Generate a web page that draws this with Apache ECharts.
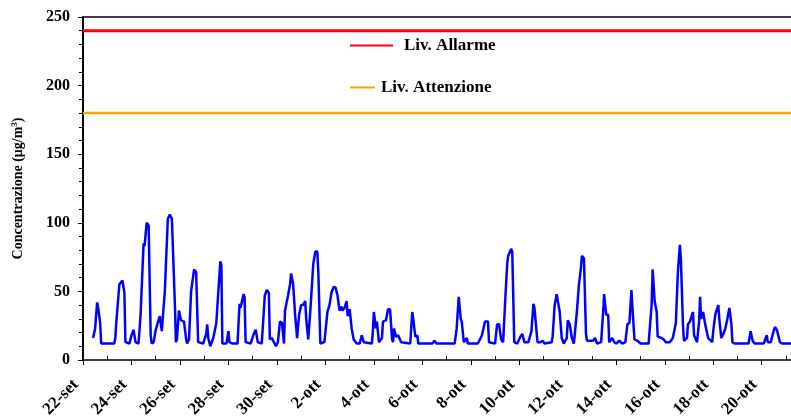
<!DOCTYPE html>
<html>
<head>
<meta charset="utf-8">
<script src="https://cdn.jsdelivr.net/npm/echarts@6/dist/echarts.min.js"></script>
<style>html,body{margin:0;padding:0;background:#fff}#c{width:791px;height:420px}</style>
</head>
<body>
<div id="c"></div>
<script>
// hours since 22-set 00:00
const hours = [10,12,14,15,17,18,31,32,33,36,39,41,42,46,48,50,52,55,57,60,61,63,65,67,68,70,72,73,76,78,81,82,84,86,88,91,92,93,95,97,100,102,103,105,107,110,112,114,119,122,123,124,126,129,132,134,136,137,138,142,144,145,146,148,153,155,156,159,160,161,166,169,171,173,177,180,182,184,185,187,189,191,193,195,197,199,200,203,205,206,208,210,212,214,216,218,220,221,223,225,228,230,232,
233,235,239,242,244,246,247,248,250,252,254,256,257,259,261,262,264,266,268,271,274,276,278,286,287,288,290,291,293,296,297,300,302,304,306,307,308,310,312,315,324,326,327,329,331,332,346,348,350,368,370,372,374,375,377,380,381,391,395,398,401,402,408,410,412,414,416,418,420,421,424,425,427,430,433,435,437,441,444,446,447,450,453,455,457,
464,465,467,469,472,474,476,479,480,482,484,486,489,491,493,494,496,498,499,505,507,509,513,515,516,518,520,521,524,526,528,531,534,537,539,541,543,544,546,549,552,560,563,564,566,568,569,573,575,577,581,584,587,589,591,592,594,595,598,599,601,603,604,605,608,610,611,612,614,616,619,623,624,626,629,630,632,634,636,638,640,642,643,645,659,661,663,665,674,677,678,681,683,685,687,690,692,701];
const values = [16,23,42,38,27,12,12,16,28,55,58,49,13,12,18,22,13,12,33,85,83,100,98,18,12,13,22,22,32,21,50,50,103,106,103,40,13,15,36,29,28,16,12,15,50,66,64,13,12,19,26,16,10,16,27,50,72,69,12,12,21,13,14,12,12,41,38,48,46,13,12,19,22,13,12,47,51,49,15,16,13,10,13,28,27,12,36,47,55,63,56,33,16,33,40,40,43,30,15,35,70,79,79,
64,12,13,35,40,49,48,53,53,47,36,39,36,38,43,32,37,23,15,12,12,18,13,12,21,35,23,28,13,16,28,29,37,37,15,13,23,17,18,13,12,35,30,17,18,12,12,14,12,12,23,46,30,28,13,16,12,12,18,28,28,13,12,26,26,15,13,43,70,76,81,79,13,12,17,19,13,13,21,41,38,13,13,14,12,
13,17,40,48,35,16,12,16,29,26,16,12,35,55,67,76,74,19,14,14,16,12,13,35,48,33,33,13,16,13,12,14,12,13,26,27,51,38,15,14,12,12,40,66,43,35,17,16,15,13,13,16,27,64,84,73,26,14,16,26,28,33,35,18,13,28,46,30,35,26,16,13,21,33,40,30,16,19,23,30,38,26,13,12,12,21,14,12,12,18,13,13,19,24,22,13,12,12];
const tickLabels = ['22-set','24-set','26-set','28-set','30-set','2-ott','4-ott','6-ott','8-ott','10-ott','12-ott','14-ott','16-ott','18-ott','20-ott'];
const yTicks = [0,50,100,150,200,250];
const allarme = 240;
const attenzione = 180;
const xEnd = 701;

const series1 = hours.map((h,i)=>[h, values[i]]);
const oddDays = []; for (let d = 1; d * 24 <= xEnd; d += 2) oddDays.push(d*24);
const yMinor = []; for (let v = 10; v < 250; v += 10) if (v % 50) yMinor.push(v);

const font = 'Liberation Serif, Times New Roman, serif';
const chart = echarts.init(document.getElementById('c'), null, {renderer:'canvas'});
chart.setOption({
  animation:false,
  backgroundColor:'#fff',
  grid:{left:83,right:0,top:17,bottom:60,containLabel:false,outerBoundsMode:'none'},
  legend:[
    {data:['Liv. Allarme'],left:345,top:32,icon:'rect',itemWidth:43,itemHeight:2,
     textStyle:{fontFamily:font,fontWeight:'bold',fontSize:17,color:'#000',padding:[0,0,0,6]}},
    {data:['Liv. Attenzione'],left:345,top:74,icon:'rect',itemWidth:25,itemHeight:2,
     textStyle:{fontFamily:font,fontWeight:'bold',fontSize:17,color:'#000',padding:[0,0,0,1]}}
  ],
  xAxis:[
    {type:'value',min:0,max:xEnd,interval:48,position:'bottom',
     axisLine:{show:true,lineStyle:{color:'#000',width:1.5}},
     axisTick:{show:true,inside:false,length:5,lineStyle:{color:'#000',width:1}},
     splitLine:{show:false},
     axisLabel:{rotate:45,margin:15,padding:[0,10,0,0],fontFamily:font,fontWeight:'bold',fontSize:17,color:'#000',showMaxLabel:false,
       formatter:(v)=> (v % 48 === 0 ? (tickLabels[v/48] || '') : '')}},
    {type:'value',min:0,max:xEnd,position:'bottom',
     axisLine:{show:false},
     axisTick:{show:true,inside:true,length:4,customValues:oddDays,lineStyle:{color:'#000',width:1}},
     axisLabel:{show:false},splitLine:{show:false}},
    {type:'value',min:0,max:xEnd,position:'top',
     axisLine:{show:true,lineStyle:{color:'#000',width:1.5}},
     axisTick:{show:false},axisLabel:{show:false},splitLine:{show:false}}
  ],
  yAxis:[
    {type:'value',min:0,max:250,interval:50,
     axisLine:{show:true,lineStyle:{color:'#000',width:2}},
     axisTick:{show:true,inside:false,length:5,lineStyle:{color:'#000',width:1}},
     splitLine:{show:false},
     axisLabel:{margin:13,fontFamily:font,fontWeight:'bold',fontSize:16,color:'#000',
       formatter:(v)=> yTicks.includes(v) ? String(v) : ''},
     name:'{a|Concentrazione (μg/m}{b|3}{a|)}',nameLocation:'middle',nameGap:57,nameRotate:90,
     nameTextStyle:{rich:{a:{fontFamily:font,fontWeight:'bold',fontSize:14,color:'#000'},
                          b:{fontFamily:font,fontWeight:'bold',fontSize:9,color:'#000',verticalAlign:'top',padding:[0,0,7,0]}}}},
    {type:'value',min:0,max:250,
     axisLine:{show:false},
     axisTick:{show:true,inside:true,length:4,customValues:yMinor,lineStyle:{color:'#000',width:1}},
     axisLabel:{show:false},splitLine:{show:false}}
  ],
  series:[
    {name:'Concentrazione',type:'line',xAxisIndex:0,yAxisIndex:0,data:series1,showSymbol:false,symbol:'none',
     lineStyle:{color:'#0000FF',width:2.5},itemStyle:{color:'#0000FF'},z:3},
    {name:'Liv. Allarme',type:'line',xAxisIndex:0,yAxisIndex:0,data:[[0,allarme],[xEnd,allarme]],showSymbol:false,symbol:'none',
     lineStyle:{color:'#FF0000',width:3},itemStyle:{color:'#FF0000'}},
    {name:'Liv. Attenzione',type:'line',xAxisIndex:0,yAxisIndex:0,data:[[0,attenzione],[xEnd,attenzione]],showSymbol:false,symbol:'none',
     lineStyle:{color:'#FFA500',width:2.5},itemStyle:{color:'#FFA500'}}
  ]
});
</script>
</body>
</html>
